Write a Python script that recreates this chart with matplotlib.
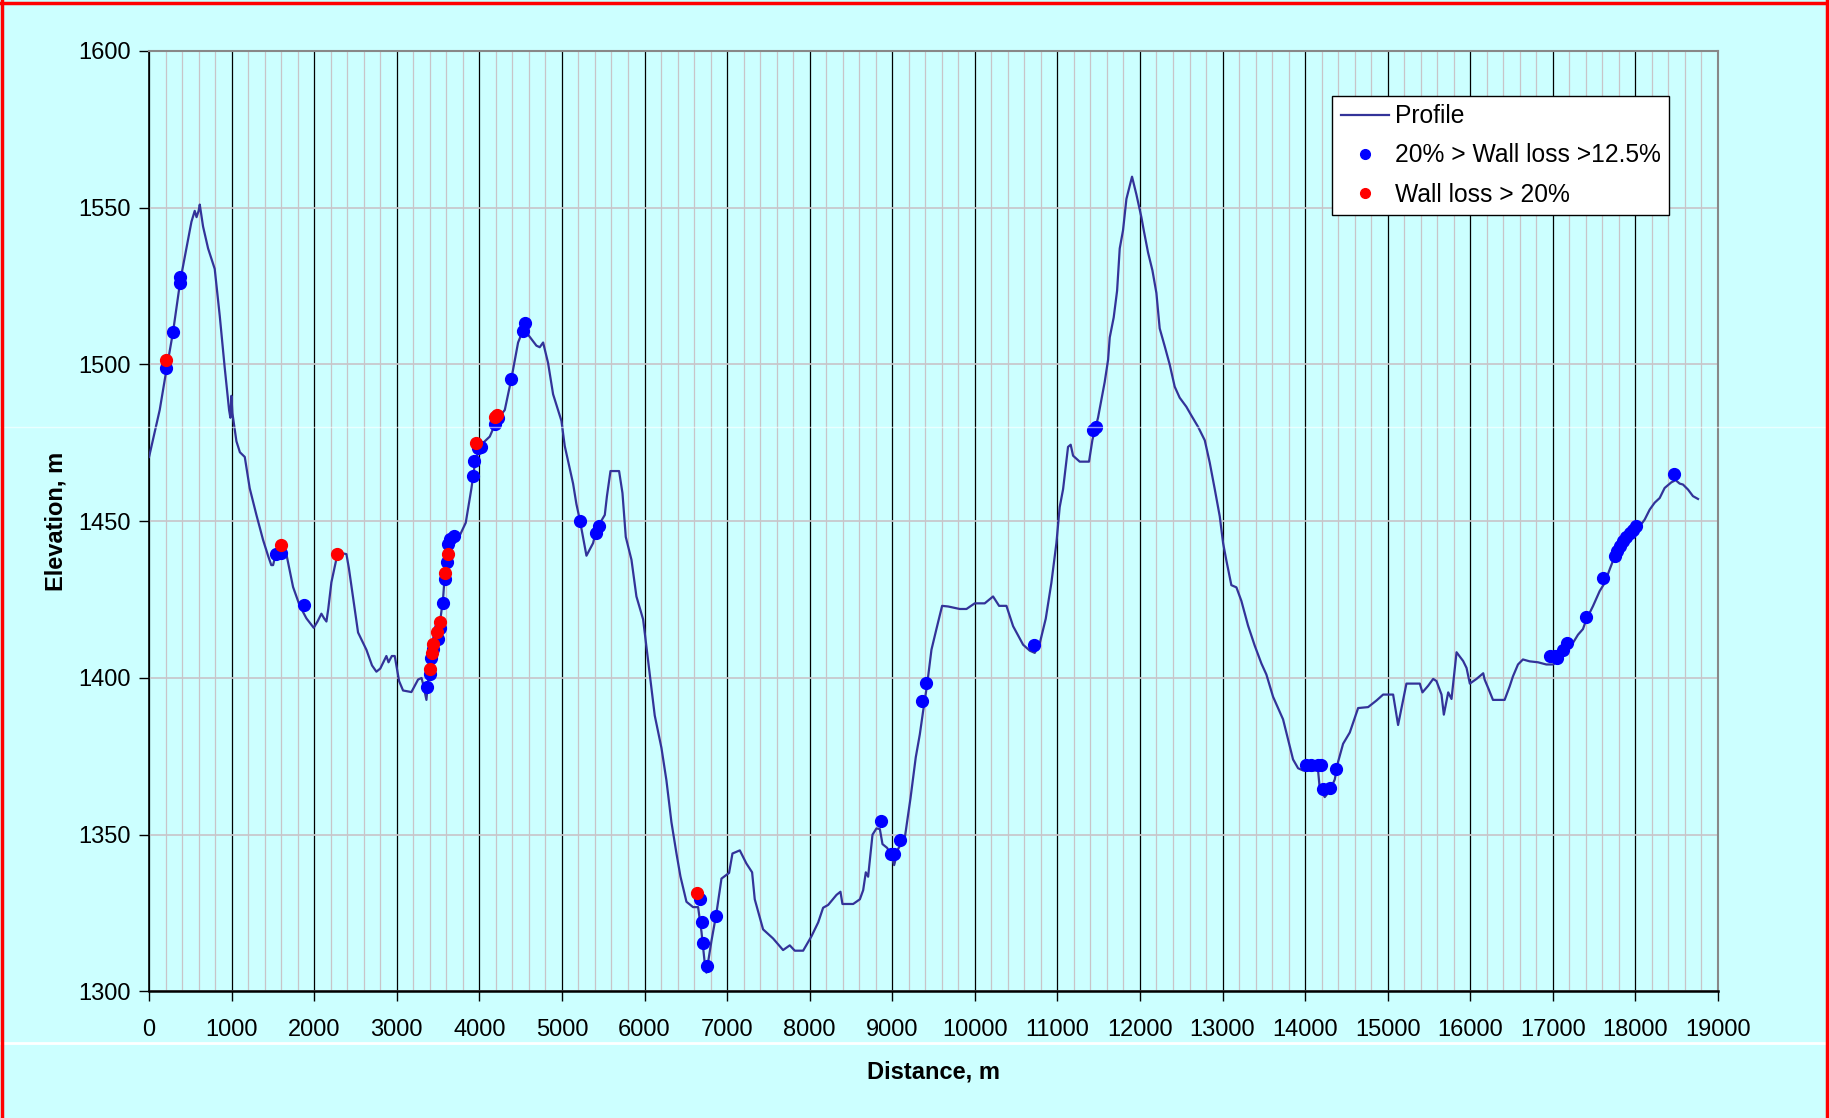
import numpy as np
import matplotlib
matplotlib.use("Agg")
import matplotlib.pyplot as plt
from matplotlib.lines import Line2D
from matplotlib.ticker import MultipleLocator

plt.rcParams['font.family'] = ['Liberation Sans', 'DejaVu Sans']

# profile along the pipeline (distance m, elevation m)
dist = [0, 129, 202, 291, 380, 452, 513, 553, 575, 600, 614, 654, 715, 795, 856, 916, 969, 985,
        997, 1009, 1058, 1100, 1159, 1219, 1300, 1381, 1441, 1480, 1502, 1520, 1542, 1663, 1744,
        1825, 1906, 1994, 2040, 2087, 2120, 2148, 2170, 2208, 2269, 2300, 2390, 2420, 2471, 2531,
        2632, 2700, 2753, 2800, 2874, 2900, 2940, 2975, 3028, 3076, 3177, 3258, 3300, 3319, 3359,
        3379, 3440, 3520, 3561, 3593, 3642, 3763, 3835, 3904, 3944, 4005, 4126, 4207, 4308, 4388,
        4469, 4530, 4590, 4691, 4731, 4772, 4832, 4893, 4994, 5034, 5135, 5175, 5216, 5297, 5377,
        5418, 5519, 5545, 5588, 5692, 5733, 5773, 5842, 5902, 5983, 6064, 6124, 6205, 6265, 6326,
        6387, 6435, 6508, 6588, 6649, 6690, 6730, 6750, 6810, 6871, 6932, 7024, 7065, 7154, 7234,
        7303, 7335, 7436, 7557, 7678, 7759, 7820, 7921, 8022, 8103, 8163, 8224, 8325, 8373, 8397,
        8527, 8608, 8648, 8680, 8708, 8761, 8809, 8850, 8882, 8938, 8991, 9023, 9072, 9152, 9221,
        9285, 9334, 9374, 9423, 9475, 9536, 9604, 9677, 9818, 9899, 9999, 10120, 10221, 10294,
        10383, 10464, 10585, 10666, 10726, 10786, 10859, 10927, 10988, 11028, 11069, 11129, 11161,
        11190, 11270, 11383, 11424, 11492, 11573, 11614, 11634, 11682, 11723, 11755, 11795, 11836,
        11904, 11957, 12017, 12046, 12098, 12151, 12199, 12239, 12300, 12360, 12421, 12481, 12562,
        12623, 12704, 12785, 12845, 12906, 12966, 13007, 13047, 13107, 13168, 13228, 13309, 13390,
        13471, 13531, 13612, 13672, 13733, 13793, 13854, 13915, 13975, 14157, 14177, 14238, 14298,
        14359, 14400, 14460, 14541, 14642, 14763, 14864, 14945, 15066, 15126, 15227, 15389, 15421,
        15490, 15551, 15591, 15652, 15680, 15733, 15773, 15834, 15914, 15955, 15995, 16076, 16157,
        16174, 16217, 16275, 16416, 16477, 16517, 16578, 16638, 16719, 16820, 16921, 17002, 17062,
        17163, 17244, 17305, 17365, 17405, 17486, 17567, 17628, 17688, 17749, 17809, 17890, 17971,
        18052, 18112, 18173, 18233, 18294, 18354, 18435, 18487, 18536, 18576, 18637, 18697, 18758]
elev = [1470.5, 1485.5, 1497, 1510.5, 1527, 1537, 1545.5, 1549, 1547, 1549, 1551, 1544, 1537,
        1530.5, 1515.5, 1499, 1485.5, 1483, 1490, 1484.5, 1475.5, 1472, 1470.5, 1460.5, 1452, 1444,
        1439, 1436, 1436, 1438, 1439, 1439.5, 1429, 1423, 1419, 1416, 1418, 1420.5, 1419, 1418,
        1422, 1430.5, 1438, 1440, 1439.5, 1435, 1425.5, 1414.5, 1409, 1404, 1402, 1403, 1407, 1405,
        1407, 1407, 1399, 1396, 1395.5, 1399.5, 1400, 1398, 1393, 1399, 1409, 1417, 1425.5, 1437,
        1444, 1445.5, 1449.5, 1460.5, 1468, 1474, 1477, 1482, 1485.5, 1495.5, 1507, 1511, 1509.5,
        1506, 1505.5, 1507, 1500.5, 1490.5, 1482, 1474, 1462, 1455.5, 1450.5, 1439, 1443, 1447.5,
        1452, 1458, 1466, 1466, 1459, 1445, 1437.7, 1426, 1418.7, 1401, 1388, 1377.7, 1367.4, 1354,
        1344, 1336.7, 1328.6, 1326.9, 1326.9, 1319, 1308.9, 1306, 1316, 1325, 1336, 1337.8, 1344,
        1345, 1340.8, 1338, 1329.4, 1319.8, 1316.9, 1313.2, 1314.7, 1313, 1313, 1317.6, 1322,
        1326.7, 1327.6, 1330.8, 1331.8, 1327.9, 1327.9, 1329.4, 1332.3, 1338, 1336.6, 1350, 1352,
        1351.8, 1347, 1345.8, 1343.3, 1340.3, 1345.5, 1349, 1361.6, 1374.7, 1382, 1389.4, 1398,
        1409, 1415.7, 1423, 1422.8, 1422, 1422, 1423.8, 1423.8, 1426, 1423, 1423, 1416.5, 1410.6,
        1408.7, 1408, 1411, 1418.9, 1430.3, 1443, 1454.5, 1460.2, 1473.7, 1474.4, 1470.9, 1469,
        1469, 1475.9, 1483, 1494.4, 1501.5, 1508.6, 1515, 1523.5, 1537, 1542.8, 1552.8, 1559.9,
        1554.2, 1547, 1542.8, 1535.7, 1530, 1522.8, 1511.5, 1505.8, 1500, 1492.9, 1489.4, 1486.5,
        1483.7, 1480.1, 1475.8, 1468.7, 1460.2, 1451.6, 1443, 1437.4, 1429.6, 1428.9, 1424.6,
        1416.7, 1410.3, 1404.6, 1401.1, 1394, 1390.4, 1386.8, 1380.4, 1374, 1371.2, 1370.5, 1370.5,
        1364.8, 1362, 1364, 1367.6, 1373.3, 1379, 1382.6, 1390.4, 1390.7, 1392.8, 1394.7, 1394.7,
        1385, 1398.2, 1398.2, 1395.4, 1397.5, 1399.7, 1399, 1394.7, 1388.3, 1395.4, 1393.3, 1408.2,
        1405.4, 1403.2, 1398.2, 1399.7, 1401.5, 1399.5, 1396.8, 1393, 1393, 1397.3, 1400.5, 1404.3,
        1405.9, 1405.3, 1405, 1404.3, 1404.3, 1405.3, 1408.5, 1411.2, 1413.8, 1415.6, 1418.6,
        1422.9, 1427.7, 1430.3, 1434.6, 1438.8, 1442, 1444.7, 1446.8, 1448.4, 1450.5, 1453.7,
        1455.9, 1457.4, 1460.6, 1462.4, 1463.1, 1462, 1461.7, 1460.1, 1458, 1457.1]

# 20% > wall loss > 12.5%
blue_x = [202, 291, 380, 380, 1542, 1603, 1873, 3371, 3399, 3420, 3440, 3500, 3520, 3560, 3585,
          3609, 3621, 3650, 3690, 3923, 3932, 3984, 4025, 4186, 4226, 4388, 4530, 4558, 5215, 5409,
          5449, 6669, 6698, 6714, 6758, 6871, 8861, 8991, 9019, 9091, 9362, 9406, 10714, 11432,
          11472, 14016, 14076, 14157, 14197, 14218, 14298, 14379, 16962, 17022, 17051, 17123, 17172,
          17406, 17608, 17749, 17777, 17810, 17850, 17890, 17931, 17971, 18012, 18468]
blue_y = [1499, 1510.5, 1526, 1528, 1439.4, 1439.8, 1423.4, 1397, 1401.3, 1406.3, 1409.1, 1412.3,
          1415.8, 1424, 1431.6, 1436.9, 1442.7, 1444.2, 1445.3, 1464.4, 1469.2, 1473.5, 1473.8,
          1481, 1482.8, 1495.5, 1510.8, 1513.3, 1450.2, 1446.1, 1448.5, 1329.4, 1322.3, 1315.3,
          1308, 1324.1, 1354.5, 1344, 1343.7, 1348.4, 1392.6, 1398.5, 1410.6, 1479, 1479.9, 1372.2,
          1372.2, 1372.2, 1372.2, 1364.5, 1365, 1371, 1406.9, 1406.9, 1406.4, 1409, 1411.2, 1419.3,
          1431.8, 1438.8, 1440.4, 1442, 1443.6, 1445, 1446.3, 1447.3, 1448.4, 1465.2]

# wall loss > 20%
red_x = [202, 1603, 2281, 3399, 3427, 3440, 3492, 3520, 3585, 3617, 3956, 4186, 4214, 6641]
red_y = [1501.3, 1442.4, 1439.4, 1403, 1407.9, 1410.7, 1414.6, 1417.9, 1433.4, 1439.5, 1475.1,
         1483.4, 1483.9, 1331.3]

BG = '#CCFFFF'
GRID = '#C8C4C8'

fig = plt.figure(figsize=(18.29, 11.18), dpi=100, facecolor=BG)
ax = fig.add_axes([0.0815, 0.1132, 0.8578, 0.8412])
ax.set_facecolor(BG)

ax.plot(dist, elev, color='#333399', lw=1.6, label='Profile', zorder=3)
ax.plot(blue_x, blue_y, 'o', color='#0000FF', ms=8.5, mec='#0000FF', zorder=4,
        label='20% > Wall loss >12.5%')
ax.plot(red_x, red_y, 'o', color='#FF0000', ms=8.5, mec='#FF0000', zorder=5,
        label='Wall loss > 20%')

ax.set_xlim(0, 19000)
ax.set_ylim(1300, 1600)
ax.xaxis.set_major_locator(MultipleLocator(1000))
ax.xaxis.set_minor_locator(MultipleLocator(200))
ax.yaxis.set_major_locator(MultipleLocator(50))

ax.grid(which='minor', axis='x', color=GRID, lw=0.9, zorder=0)
ax.grid(which='major', axis='x', color='black', lw=0.9, zorder=1)
ax.grid(which='major', axis='y', color=GRID, lw=1.2, zorder=0)
ax.set_axisbelow(True)

ax.tick_params(which='minor', length=0)
ax.tick_params(which='major', length=7, width=1, direction='out', labelsize=17, color='black')
ax.tick_params(axis='x', pad=13)
ax.tick_params(axis='y', pad=6)

for s in ['top', 'right']:
    ax.spines[s].set_color('#888888')
    ax.spines[s].set_linewidth(1.5)
ax.spines['left'].set_color('black')
ax.spines['left'].set_linewidth(1.2)
ax.spines['bottom'].set_color('black')
ax.spines['bottom'].set_linewidth(1.8)

ax.set_xlabel('Distance, m', fontsize=17, fontweight='bold', labelpad=14)
ax.set_ylabel('Elevation, m', fontsize=17, fontweight='bold', labelpad=8)

handles = [Line2D([], [], color='#333399', lw=1.6),
           Line2D([], [], marker='o', ls='', color='#0000FF', ms=7),
           Line2D([], [], marker='o', ls='', color='#FF0000', ms=7)]
labels = ['Profile', '20% > Wall loss >12.5%', 'Wall loss > 20%']
leg = ax.legend(handles, labels, loc='upper left', bbox_to_anchor=(0.754, 0.9526),
                borderaxespad=0, prop={'size': 17.7}, frameon=True, fancybox=False,
                edgecolor='black', framealpha=1, facecolor='white',
                handlelength=1.95, handletextpad=0.25, borderpad=0.35, labelspacing=0.62)
leg.get_frame().set_linewidth(1.0)
leg.set_zorder(10)

# slide frame and artefact lines
fig.add_artist(Line2D([0, 1], [1 - 427 / 1118] * 2, color='white', lw=1.0, alpha=0.6,
                      transform=fig.transFigure))
fig.add_artist(Line2D([0, 1], [1 - 1043 / 1118] * 2, color='white', lw=2, transform=fig.transFigure))
fig.add_artist(Line2D([0, 1], [0.9976, 0.9976], color='#FF0000', lw=2.5, transform=fig.transFigure))
fig.add_artist(Line2D([0.0011, 0.0011], [0, 1], color='#FF0000', lw=2.5, transform=fig.transFigure))
fig.add_artist(Line2D([0.9990, 0.9990], [0, 1], color='#FF0000', lw=2.5, transform=fig.transFigure))

fig.savefig('out.png', dpi=100, facecolor=BG)
